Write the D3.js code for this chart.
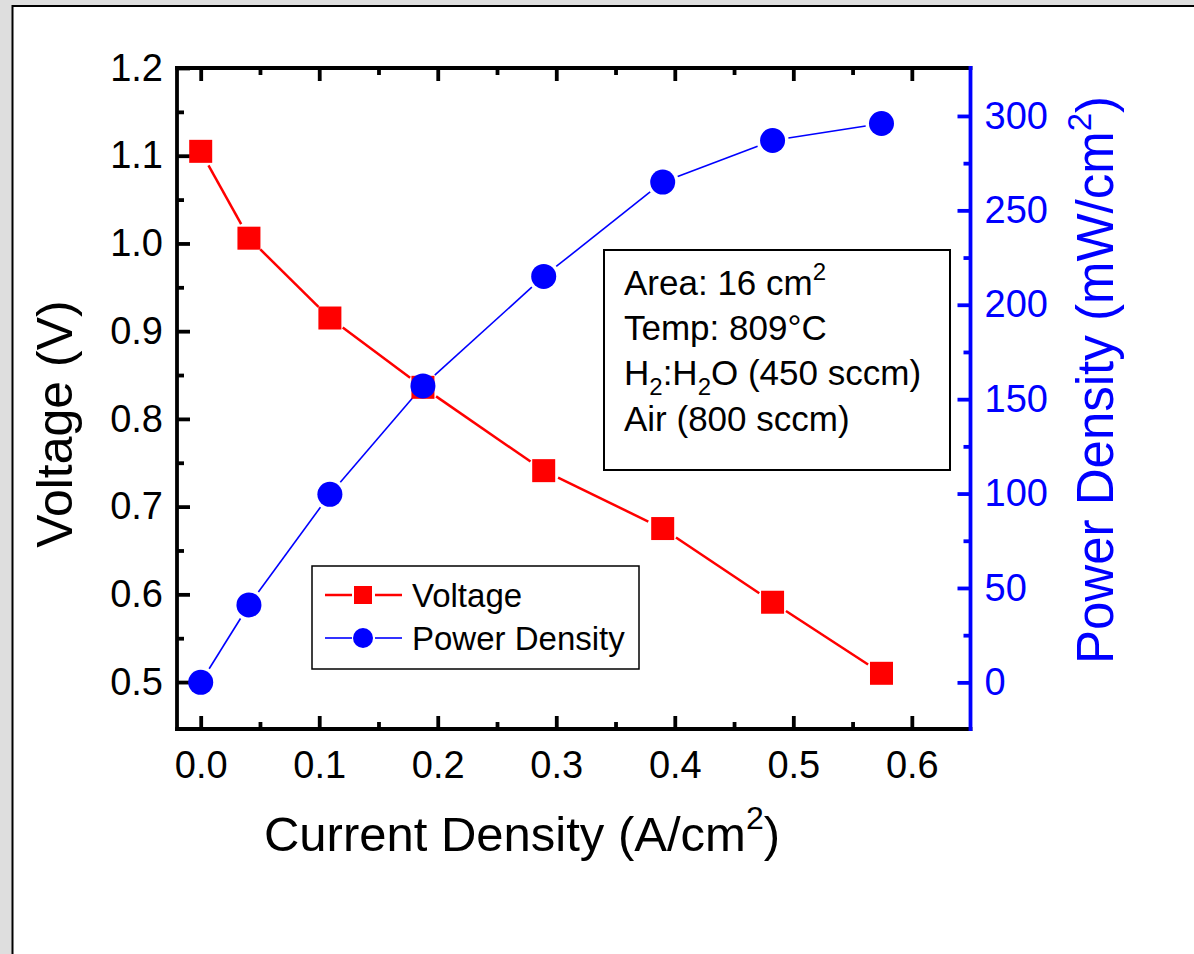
<!DOCTYPE html>
<html>
<head>
<meta charset="utf-8">
<script src="https://cdn.jsdelivr.net/npm/d3@7"></script>
<style>
  body { margin: 0; background: #dedede; }
  svg { display: block; font-family: "Liberation Sans", Arial, sans-serif; }
</style>
</head>
<body>
<svg id="chart" width="1194" height="954"></svg>
<script>
// data
var currentDensity = [0.0, 0.0407, 0.109, 0.1875, 0.2894, 0.3898, 0.4825, 0.5744];
var voltage = [1.105, 1.006, 0.915, 0.836, 0.741, 0.675, 0.591, 0.510];
var powerDensity = [0, 41, 99.6, 157, 215, 265, 287, 296];

var xTicks = [0.0, 0.1, 0.2, 0.3, 0.4, 0.5, 0.6];
var xMinor = [0.05, 0.15, 0.25, 0.35, 0.45, 0.55];
var vTicks = [0.5, 0.6, 0.7, 0.8, 0.9, 1.0, 1.1, 1.2];
var vMinor = [0.55, 0.65, 0.75, 0.85, 0.95, 1.05, 1.15];
var pTicks = [0, 50, 100, 150, 200, 250, 300];
var pMinor = [25, 75, 125, 175, 225, 275];

var notes = ["Area: 16 cm", "Temp: 809°C", "H", "Air (800 sccm)"];

var svg = d3.select("#chart"),
    margin = {top: 68, right: 223.5, bottom: 225, left: 177},
    width = +svg.attr("width") - margin.left - margin.right,
    height = +svg.attr("height") - margin.top - margin.bottom;

// white panel with dark frame
svg.append("rect")
    .attr("x", 12.5).attr("y", 6)
    .attr("width", 1300).attr("height", 1100)
    .attr("fill", "#fff")
    .attr("stroke", "#000")
    .attr("stroke-width", 2);

var g = svg.append("g").attr("transform", "translate(" + margin.left + "," + margin.top + ")");

var x = d3.scaleLinear().domain([-0.02, 0.6495]).range([0, width]);
var yV = d3.scaleLinear().domain([0.4465, 1.2]).range([height, 0]);
var yP = d3.scaleLinear().domain([-24.7, 325.4]).range([height, 0]);

var MAJ = 13, MIN = 7;

function styleAxis(sel, color, size) {
  sel.select(".domain").remove();
  sel.selectAll("line").attr("stroke", color).attr("stroke-width", 3.8);
  sel.selectAll("text").attr("fill", color).attr("font-size", size);
}

// bottom axis
g.append("g").attr("transform", "translate(0," + height + ")")
    .call(d3.axisBottom(x).tickValues(xTicks).tickFormat(d3.format(".1f"))
      .tickSizeInner(-MAJ).tickSizeOuter(0).tickPadding(22))
    .call(styleAxis, "#000", 38);
g.append("g").attr("transform", "translate(0," + height + ")")
    .call(d3.axisBottom(x).tickValues(xMinor).tickFormat("").tickSizeInner(-MIN).tickSizeOuter(0))
    .call(styleAxis, "#000", 38);
// top axis
g.append("g")
    .call(d3.axisTop(x).tickValues(xTicks).tickFormat("").tickSizeInner(-MAJ).tickSizeOuter(0))
    .call(styleAxis, "#000", 38);
g.append("g")
    .call(d3.axisTop(x).tickValues(xMinor).tickFormat("").tickSizeInner(-MIN).tickSizeOuter(0))
    .call(styleAxis, "#000", 38);
// left axis
g.append("g")
    .call(d3.axisLeft(yV).tickValues(vTicks).tickFormat(d3.format(".1f"))
      .tickSizeInner(-MAJ).tickSizeOuter(0).tickPadding(14))
    .call(styleAxis, "#000", 38);
g.append("g")
    .call(d3.axisLeft(yV).tickValues(vMinor).tickFormat("").tickSizeInner(-MIN).tickSizeOuter(0))
    .call(styleAxis, "#000", 38);
// right axis
g.append("g").attr("transform", "translate(" + width + ",0)")
    .call(d3.axisRight(yP).tickValues(pTicks).tickFormat(d3.format("d"))
      .tickSizeInner(-MAJ).tickSizeOuter(0).tickPadding(14))
    .call(styleAxis, "#00f", 38);
g.append("g").attr("transform", "translate(" + width + ",0)")
    .call(d3.axisRight(yP).tickValues(pMinor).tickFormat("").tickSizeInner(-MIN).tickSizeOuter(0))
    .call(styleAxis, "#00f", 38);

// frame lines
var frame = g.append("g").attr("stroke-width", 3.8).attr("stroke-linecap", "square");
frame.append("line").attr("x1", 0).attr("y1", 0).attr("x2", width).attr("y2", 0).attr("stroke", "#000");
frame.append("line").attr("x1", 0).attr("y1", height).attr("x2", width).attr("y2", height).attr("stroke", "#000");
frame.append("line").attr("x1", 0).attr("y1", 0).attr("x2", 0).attr("y2", height).attr("stroke", "#000");
frame.append("line").attr("x1", width).attr("y1", 0).attr("x2", width).attr("y2", height).attr("stroke", "#00f");

// connecting segments, stopped short of the markers like the original
function segments(ys, scale, gap) {
  var pts = currentDensity.map(function(d, i) { return [x(d), scale(ys[i])]; });
  var segs = [];
  for (var i = 0; i < pts.length - 1; i++) {
    var a = pts[i], b = pts[i + 1];
    var dx = b[0] - a[0], dy = b[1] - a[1], len = Math.sqrt(dx * dx + dy * dy);
    if (len <= 2 * gap) continue;
    var ux = dx / len, uy = dy / len;
    segs.push([a[0] + ux * gap, a[1] + uy * gap, b[0] - ux * gap, b[1] - uy * gap]);
  }
  return segs;
}

g.append("g").selectAll("line")
    .data(segments(voltage, yV, 16))
    .enter().append("line")
      .attr("x1", function(d) { return d[0]; }).attr("y1", function(d) { return d[1]; })
      .attr("x2", function(d) { return d[2]; }).attr("y2", function(d) { return d[3]; })
      .attr("stroke", "#f00").attr("stroke-width", 2.5);

g.append("g").selectAll("line")
    .data(segments(powerDensity, yP, 16))
    .enter().append("line")
      .attr("x1", function(d) { return d[0]; }).attr("y1", function(d) { return d[1]; })
      .attr("x2", function(d) { return d[2]; }).attr("y2", function(d) { return d[3]; })
      .attr("stroke", "#00f").attr("stroke-width", 1.6);

var sq = 23;
g.append("g").selectAll("rect")
    .data(currentDensity)
    .enter().append("rect")
      .attr("x", function(d) { return x(d) - sq / 2; })
      .attr("y", function(d, i) { return yV(voltage[i]) - sq / 2; })
      .attr("width", sq).attr("height", sq)
      .attr("fill", "#f00");

g.append("g").selectAll("circle")
    .data(currentDensity)
    .enter().append("circle")
      .attr("cx", function(d) { return x(d); })
      .attr("cy", function(d, i) { return yP(powerDensity[i]); })
      .attr("r", 12.5)
      .attr("fill", "#00f");

// axis titles
var xt = svg.append("text")
    .attr("x", 522).attr("y", 851)
    .attr("text-anchor", "middle")
    .attr("font-size", 49);
xt.append("tspan").text("Current Density (A/cm");
xt.append("tspan").attr("dy", -22).attr("font-size", 32).text("2");
xt.append("tspan").attr("dy", 22).text(")");

svg.append("text")
    .attr("transform", "translate(72,424) rotate(-90)")
    .attr("text-anchor", "middle")
    .attr("font-size", 50)
    .text("Voltage (V)");

var pt = svg.append("text")
    .attr("transform", "translate(1113,380) rotate(-90)")
    .attr("text-anchor", "middle")
    .attr("font-size", 51)
    .attr("fill", "#00f");
pt.append("tspan").text("Power Density (mW/cm");
pt.append("tspan").attr("dy", -22).attr("font-size", 33).text("2");
pt.append("tspan").attr("dy", 22).text(")");

// annotation box
svg.append("rect")
    .attr("x", 604).attr("y", 250).attr("width", 346).attr("height", 220)
    .attr("fill", "#fff").attr("stroke", "#000").attr("stroke-width", 2);

var note = svg.append("g").attr("font-size", 35);
var t1 = note.append("text").attr("x", 624).attr("y", 295);
t1.append("tspan").text(notes[0]);
t1.append("tspan").attr("dy", -15).attr("font-size", 24).text("2");
note.append("text").attr("x", 624).attr("y", 340).text(notes[1]);
var t3 = note.append("text").attr("x", 624).attr("y", 385);
t3.append("tspan").text("H");
t3.append("tspan").attr("dy", 10).attr("font-size", 24).text("2");
t3.append("tspan").attr("dy", -10).text(":H");
t3.append("tspan").attr("dy", 10).attr("font-size", 24).text("2");
t3.append("tspan").attr("dy", -10).text("O (450 sccm)");
note.append("text").attr("x", 624).attr("y", 431).text(notes[3]);

// legend
var legend = svg.append("g");
legend.append("rect")
    .attr("x", 312).attr("y", 566).attr("width", 327).attr("height", 103)
    .attr("fill", "#fff").attr("stroke", "#000").attr("stroke-width", 1.5);

var rows = [
  {name: "Voltage", color: "#f00", shape: "square", y: 595, w: 2.5},
  {name: "Power Density", color: "#00f", shape: "circle", y: 638, w: 1.6}
];
var item = legend.selectAll(".item").data(rows).enter().append("g")
    .attr("transform", function(d) { return "translate(0," + d.y + ")"; });
item.append("line").attr("x1", 325).attr("x2", 352).attr("stroke", function(d) { return d.color; })
    .attr("stroke-width", function(d) { return d.w; });
item.append("line").attr("x1", 375).attr("x2", 402).attr("stroke", function(d) { return d.color; })
    .attr("stroke-width", function(d) { return d.w; });
item.filter(function(d) { return d.shape === "square"; }).append("rect")
    .attr("x", 354).attr("y", -9).attr("width", 18).attr("height", 18).attr("fill", "#f00");
item.filter(function(d) { return d.shape === "circle"; }).append("circle")
    .attr("cx", 363).attr("r", 10).attr("fill", "#00f");
item.append("text").attr("x", 412).attr("dy", "0.36em").attr("font-size", 33)
    .text(function(d) { return d.name; });
</script>
</body>
</html>
